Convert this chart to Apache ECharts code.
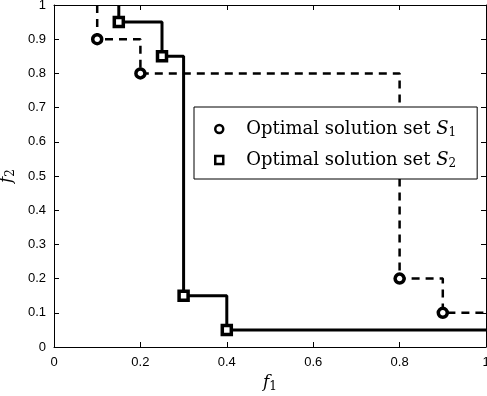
<!DOCTYPE html>
<html>
<head>
<meta charset="utf-8">
<script src="https://cdn.jsdelivr.net/npm/echarts@6/dist/echarts.min.js"></script>
<style>
  html, body { margin: 0; padding: 0; background: #fff; }
  #chart { width: 487px; height: 396px; }
</style>
</head>
<body>
<div id="chart"></div>
<script>
// optimal solution set S1 (dashed, circles)
const s1F1 = [0.1, 0.2, 0.8, 0.9]
const s1F2 = [0.9, 0.8, 0.2, 0.1]
// optimal solution set S2 (solid, squares)
const s2F1 = [0.15, 0.25, 0.3, 0.4]
const s2F2 = [0.95, 0.85, 0.15, 0.05]
const xTicks = [0, 0.2, 0.4, 0.6, 0.8, 1]
const yTicks = [0, 0.1, 0.2, 0.3, 0.4, 0.5, 0.6, 0.7, 0.8, 0.9, 1]
const names = ['Optimal solution set S1', 'Optimal solution set S2']

// staircase: start at top edge, end at right edge
const stairs = (xs, ys) => {
  const pts = xs.map((x, i) => [x, ys[i]])
  return [
    { value: [xs[0], 1], symbol: 'none' },
    ...pts,
    { value: [1, ys[ys.length - 1]], symbol: 'none' }
  ]
}

const serif = 'DejaVu Serif'
const sans = 'Liberation Sans'
const axisLine = { show: true, onZero: false, lineStyle: { color: '#000', width: 1 } }
const tick = { show: true, inside: true, length: 5, lineStyle: { color: '#000' } }

const chart = echarts.init(document.getElementById('chart'))
chart.setOption({
  animation: false,
  grid: { left: 54, right: 1, top: 5, bottom: 49, containLabel: false, outerBoundsMode: 'none' },
  xAxis: [
    {
      type: 'value', min: 0, max: 1, interval: 0.2,
      axisLine, axisTick: tick, splitLine: { show: false },
      axisLabel: { color: '#000', fontFamily: sans, fontSize: 13, margin: 9,
        formatter: v => xTicks.includes(+v.toFixed(2)) ? String(+v.toFixed(2)) : '' },
      name: '{f|f}{s|1}', nameLocation: 'middle', nameGap: 26,
      nameTextStyle: { rich: {
        f: { fontFamily: serif, fontStyle: 'italic', fontSize: 17, color: '#000' },
        s: { fontFamily: serif, fontSize: 12, color: '#000', verticalAlign: 'bottom', padding: [8, 0, 0, 0] }
      } }
    },
    {
      type: 'value', position: 'top', min: 0, max: 1, interval: 0.2,
      axisLine, axisTick: tick, axisLabel: { show: false }, splitLine: { show: false }
    }
  ],
  yAxis: [
    {
      type: 'value', min: 0, max: 1, interval: 0.1,
      axisLine, axisTick: tick, splitLine: { show: false },
      axisLabel: { color: '#000', fontFamily: sans, fontSize: 13, margin: 8,
        formatter: v => yTicks.includes(+v.toFixed(2)) ? String(+v.toFixed(2)) : '' },
      name: '{f|f}{s|2}', nameLocation: 'middle', nameGap: 32, nameRotate: 90,
      nameTextStyle: { rich: {
        f: { fontFamily: serif, fontStyle: 'italic', fontSize: 17, color: '#000' },
        s: { fontFamily: serif, fontSize: 12, color: '#000', verticalAlign: 'bottom', padding: [8, 0, 0, 0] }
      } }
    },
    {
      type: 'value', position: 'right', min: 0, max: 1, interval: 0.1,
      axisLine, axisTick: tick, axisLabel: { show: false }, splitLine: { show: false }
    }
  ],
  legend: {
    orient: 'vertical',
    left: 194, top: 107,
    padding: [13, 21, 9, 20],
    itemGap: 12,
    itemWidth: 8, itemHeight: 8,
    backgroundColor: '#fff',
    borderColor: '#000', borderWidth: 1, borderRadius: 0,
    data: [
      { name: names[0], icon: 'circle', itemStyle: { color: '#fff', borderColor: '#000', borderWidth: 2.5 } },
      { name: names[1], icon: 'rect', itemStyle: { color: '#fff', borderColor: '#000', borderWidth: 2.5 } }
    ],
    formatter: n => n === names[0]
      ? '{t|Optimal solution set }{i|S}{s|1}'
      : '{t|Optimal solution set }{i|S}{s|2}',
    textStyle: {
      padding: [0, 0, 0, 18],
      rich: {
        t: { fontFamily: serif, fontSize: 18, color: '#000' },
        i: { fontFamily: serif, fontStyle: 'italic', fontSize: 18, color: '#000' },
        s: { fontFamily: serif, fontSize: 12, color: '#000', verticalAlign: 'bottom', padding: [8, 0, 0, 0] }
      }
    }
  },
  series: [
    {
      name: names[0], type: 'line', step: 'end',
      data: stairs(s1F1, s1F2),
      symbol: 'circle', symbolSize: 9,
      itemStyle: { color: '#fff', borderColor: '#000', borderWidth: 3.5 },
      lineStyle: { color: '#000', width: 2.5, type: [8, 6] },
      z: 3
    },
    {
      name: names[1], type: 'line', step: 'end',
      data: stairs(s2F1, s2F2),
      symbol: 'rect', symbolSize: 9,
      itemStyle: { color: '#fff', borderColor: '#000', borderWidth: 3.5 },
      lineStyle: { color: '#000', width: 3, type: 'solid' },
      z: 3
    }
  ]
})
</script>
</body>
</html>
